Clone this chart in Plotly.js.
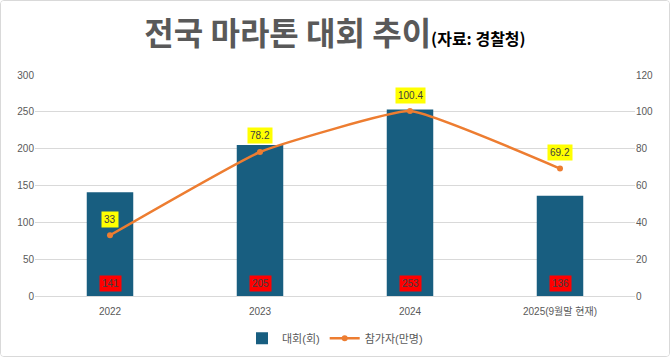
<!DOCTYPE html>
<html><head><meta charset="utf-8">
<script src="https://cdn.plot.ly/plotly-3.0.1.min.js"></script>
<style>
html,body{margin:0;padding:0;background:#fff;}
#wrap{width:670px;height:357px;box-sizing:border-box;border:1px solid #d9d9d9;border-radius:4px;overflow:hidden;}
#chart{width:668px;height:355px;}
</style></head>
<body><div id="wrap"><div id="chart"></div></div>
<script>
const categories = ['2022', '2023', '2024', '2025(9월말 현재)'];
const events = [141, 205, 253, 136];
const participants = [33, 78.2, 100.4, 69.2];
const leftTicks = [0, 50, 100, 150, 200, 250, 300];
const rightTicks = [0, 20, 40, 60, 80, 100, 120];

const FONT = '"Liberation Sans", "Noto Sans CJK KR", Arial, sans-serif';
const TFONT = '"Noto Sans CJK KR", sans-serif';

const traces = [
  {type:'bar', name:'대회(회)', x:categories, y:events, marker:{color:'#185e80'}, width:0.31, yaxis:'y',
   hoverinfo:'skip'},
  {type:'scatter', mode:'lines+markers', name:'참가자(만명)', x:categories, y:participants, yaxis:'y2',
   line:{color:'#ed7d31', width:2.5, shape:'spline', smoothing:0.35}, marker:{color:'#ed7d31', size:6}}
];

const annotations = [];
categories.forEach((c,i)=>{
  annotations.push({x:i, y:0, xref:'x', yref:'y', text:String(events[i]), showarrow:false,
    bgcolor:'#ff0000', font:{color:'#404040', size:10, family:FONT}, yshift:13, borderpad:2});
  annotations.push({x:i, y:participants[i], xref:'x', yref:'y2', text:String(participants[i]), showarrow:false,
    bgcolor:'#ffff00', font:{color:'#404040', size:10, family:FONT}, yshift:16, borderpad:2});
});

const layout = {
  width:668, height:355,
  margin:{l:34, r:34, t:74, b:60},
  paper_bgcolor:'#fff', plot_bgcolor:'#fff',
  title:{text:'<span style="font-size:32px;color:#595959;font-weight:bold">전국 마라톤 대회 추이</span><span style="font-size:16px;color:#000;font-weight:bold">(자료: 경찰청)</span>',
    x:0.5, xanchor:'center', yref:'container', y:0.89, yanchor:'middle', font:{family:TFONT}},
  font:{family:FONT, color:'#595959', size:10},
  xaxis:{type:'category', categoryorder:'array', categoryarray:categories, tickfont:{size:10, color:'#595959'}, showgrid:false, ticks:'', showline:true, linecolor:'#d9d9d9', linewidth:1, ticklabelstandoff:6},
  yaxis:{range:[0,300], tickvals:leftTicks, ticktext:leftTicks.map(String), showgrid:true, gridcolor:'#d9d9d9', zeroline:false,
    tickfont:{size:10, color:'#595959'}, ticks:''},
  yaxis2:{range:[0,120], tickvals:rightTicks, ticktext:rightTicks.map(String), overlaying:'y', side:'right', showgrid:false, zeroline:false,
    tickfont:{size:10, color:'#595959'}},
  legend:{orientation:'h', x:0.5, xanchor:'center', yref:'container', y:0.05, yanchor:'middle', font:{size:11, color:'#595959'}},
  annotations:annotations,
  showlegend:true
};

Plotly.newPlot('chart', traces, layout, {displayModeBar:false, staticPlot:true});
</script></body></html>
